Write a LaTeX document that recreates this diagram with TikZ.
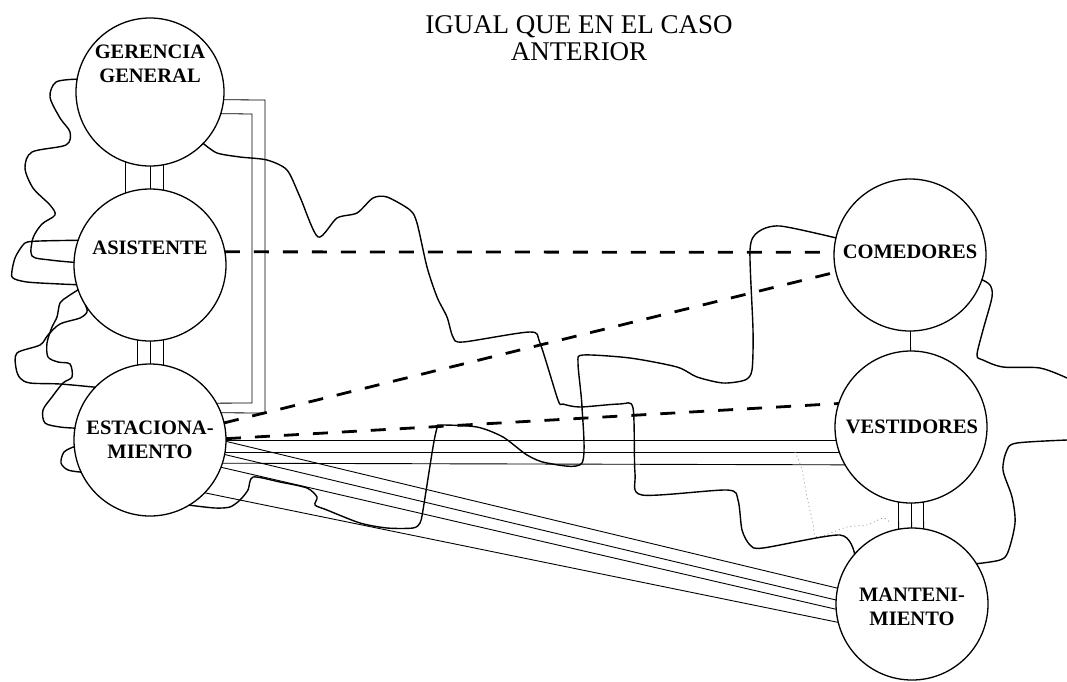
\documentclass[tikz,border=0pt]{standalone}
\usepackage{fontspec}
\setmainfont{Liberation Serif}
\usetikzlibrary{backgrounds,calc}
\tikzset{
  circ/.style={circle, draw, fill=white, line width=1.3pt, minimum size=152pt, inner sep=0pt, outer sep=0pt},
  lbl/.style={font=\fontsize{20.5}{24}\selectfont\bfseries, align=center, inner sep=0pt},
  wavy/.style={line width=1.4pt, line join=round, line cap=round},
  thinl/.style={line width=0.9pt},
  brk/.style={line width=0.8pt, line join=miter},
  dsh/.style={line width=2.8pt, dash pattern=on 15pt off 14pt},
  faint/.style={black!45, line width=0.7pt, dash pattern=on 1pt off 3pt},
}
\begin{document}
\begin{tikzpicture}[x=1pt,y=-1pt]
\useasboundingbox (0,0) rectangle (1067,681);

% title
\node[font=\fontsize{27}{27}\selectfont, align=center, inner sep=0pt] (title) at (579,38) {IGUAL QUE EN EL CASO\\ANTERIOR};

% circles
\node[circ, minimum size=148pt] (ger) at (150,92) {};
\node[circ] (asi) at (150,265) {};
\node[circ] (est) at (150,440) {};
\node[circ] (com) at (910,255) {};
\node[circ] (ves) at (911,427) {};
\node[circ] (man) at (912,604) {};

% labels
\node[lbl] (lger) at (150,64) {GERENCIA\\GENERAL};
\node[lbl] (lasi) at (150,248) {ASISTENTE};
\node[lbl] (lest) at (150,440) {ESTACIONA-\\MIENTO};
\node[lbl] (lcom) at (910,252) {COMEDORES};
\node[lbl] (lves) at (912,427) {VESTIDORES};
\node[lbl] (lman) at (912,607) {MANTENI-\\MIENTO};

\coordinate (edgeA) at (1067,378);
\coordinate (edgeB) at (1067,440);

\begin{scope}[on background layer]
  % multiple connectors between neighbouring circles
  \foreach \dx in {-25,0,13} {
    \draw[thinl] ($(ger.center)+(\dx,0)$) -- ($(asi.center)+(\dx,0)$);
  }
  \foreach \dx in {-13,0,13} {
    \draw[thinl] ($(asi.center)+(\dx,0)$) -- ($(est.center)+(\dx,0)$);
  }
  \foreach \dx in {-13,0,12} {
    \draw[thinl] ($(ves.center)+(\dx,0)$) -- ($(man.center)+(\dx,0)$);
  }
  \draw[thinl] (com.center) -- (ves.center);

  % bracket lines
  \draw[brk] (ger.-6) -- (265,100) -- (265,413) -- (est.21);
  \draw[brk] (ger.-17) -- (252,114) -- (252,403) -- (est.29);

  % horizontal lines estacionamiento - vestidores
  \draw[thinl] (est.center) -- ($(ves.center)+(0,13)$);
  \draw[thinl] ($(est.center)+(0,12)$) -- ($(ves.center)+(0,25)$);
  \draw[thinl] ($(est.center)+(0,23)$) -- ($(ves.center)+(0,38)$);

  % sloped lines estacionamiento - mantenimiento
  \draw[thinl] (est.-1.5) -- (man.168.7);
  \draw[thinl] (est.-11.3) -- (man.177);
  \draw[thinl] (est.-21.5) -- (man.184.6);
  \draw[thinl] (est.-44.5) -- (man.194.6);

  % faint pencil trace
  \draw[faint] plot[smooth, tension=0.5] coordinates {(795,452) (802,470) (807,497) (813,523) (817,537) (847,527) (867,525) (883,518) (890,523)};
\end{scope}

% dashed connectors
\draw[dsh] (asi.10) -- (com.178);
\draw[dsh] (est.13) -- (com.193);
\draw[dsh] (est.1) -- (ves.162);

% wavy hand-drawn connectors
\draw[wavy] plot[smooth, tension=0.5] coordinates {(ger.170) (56,82) (50,97) (60,118) (70,132) (66,145) (32,152) (25,168) (33,188) (50,205) (55,215) (42,224) (33,238) (32,256) (50,260) (asi.178)};
\draw[wavy] plot[smooth, tension=0.4] coordinates {(asi.161) (40,241) (25,243) (15,258) (12,277) (27,282) (60,284) (asi.195)};
\draw[wavy] plot[smooth, tension=0.5] coordinates {(asi.199) (67,297) (60,303) (57,317) (52,327) (47,343) (48,357) (58,362) (70,364) (72,377) (63,383) (52,397) (43,410) (45,423) (60,427) (est.171)};
\draw[wavy] plot[smooth, tension=0.5] coordinates {(asi.212) (87,312) (80,318) (60,324) (48,335) (40,345) (17,353) (16,368) (20,378) (30,383) (60,384) (est.136)};
\draw[wavy] plot[smooth, tension=0.5] coordinates {(est.185) (64,452) (61,463) (68,470) (est.205)};
\draw[wavy] plot[smooth, tension=0.45] coordinates {(ger.316) (217,153) (240,157) (267,160) (287,170) (300,197) (318,237) (337,218) (357,213) (373,198) (387,197) (410,210) (417,223) (427,267) (437,297) (447,317) (453,337) (463,342) (530,332) (540,343) (558,400) (563,404) (580,407) (620,404) (633,408) (635,473) (642,495) (727,490) (738,500) (742,530) (750,545) (763,548) (840,535) (man.139)};
\draw[wavy] plot[smooth, tension=0.45] coordinates {(est.301) (215,508) (230,507) (240,500) (248,490) (253,477) (280,482) (307,488) (317,497) (315,505) (327,510) (360,523) (387,528) (413,528) (420,523) (423,510) (433,447) (437,428) (440,425) (477,427) (503,437) (527,455) (547,463) (582,463) (582,407) (578,363) (583,355) (630,358) (677,367) (697,377) (723,383) (745,380) (752,370) (753,330) (750,250) (758,232) (780,226) (com.167)};
\draw[wavy] plot[smooth, tension=0.5] coordinates {(com.341) (990,285) (992,297) (983,330) (977,355) (983,360) (1003,367) (1040,368) (edgeA)};
\draw[wavy] plot[smooth, tension=0.5] coordinates {(edgeB) (1017,443) (1007,450) (1003,470) (1012,497) (1015,523) (1008,552) (1000,560) (man.32)};
\end{tikzpicture}
\end{document}
